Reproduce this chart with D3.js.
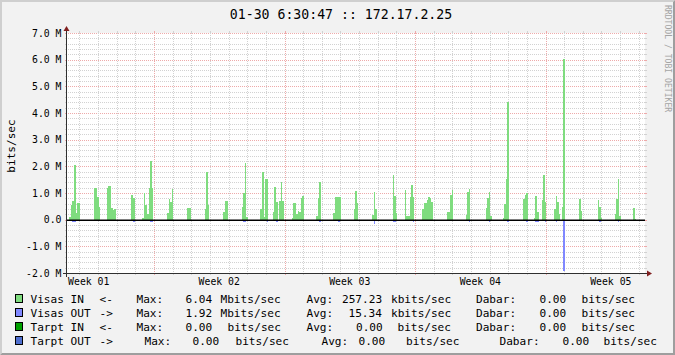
<!DOCTYPE html>
<html><head><meta charset="utf-8">
<script src="https://cdn.jsdelivr.net/npm/d3@7/dist/d3.min.js"></script>
<style>
html,body{margin:0;padding:0;background:#f2f2f2}
svg{display:block}
text{font-family:"DejaVu Sans Mono",monospace;fill:#000}
</style>
</head><body>
<svg id="chart" width="675" height="355"></svg>
<script>
// ---------------- DATA ----------------
const title = "01-30 6:30:47 :: 172.17.2.25";
const yUnitLabel = "bits/sec";
const watermark = "RRDTOOL / TOBI OETIKER";
const totalHours = 744;          // one month window
const stepHours = 2;             // RRA resolution
const firstSampleHour = 1;       // offset of first 2h sample
const weekStartHour = 112;       // first week boundary
const dayStartHour = 16;         // first day boundary
const weekLabels = ["Week 01", "Week 02", "Week 03", "Week 04", "Week 05"];
const weekLabelHours = [28, 196, 364, 532, 700];
const yTicks = [-2, -1, 0, 1, 2, 3, 4, 5, 6, 7];
const yTickLabels = ["-2.0 M", "-1.0 M", "0.0", "1.0 M", "2.0 M", "3.0 M", "4.0 M", "5.0 M", "6.0 M", "7.0 M"];

// Visas IN (Mbit/s) per 2-hour slot index
const visasInSlots = [1,2,3,4,5,6,7, 17,18,19,20, 25,26,27,28,29,30, 41,42, 48,49,50,51,52,53,54,
  64,65,66,67, 77,78, 88,89,90, 100,101,102, 112,113,114,115, 124,125,126,127,128,
  132,133,134,136,137,138, 144,145,146,147,148,149,150,151, 160,161,162, 171,172,173,174,175,
  184,185,186, 196,197,198, 209,210,211, 217,218,219,220,221,222, 228,229,230,231,232,233,234,
  244,245,246,247, 256,257,258, 269,270,271,272, 280,281,282,283, 293,294,295, 300,301,302,
  305,306,307, 313,314,315,316, 318,319, 329,330, 341,342,343, 352,353,354,355, 364,365];
const visasInMbps = [0.11,0.56,0.71,2.06,0.25,0.64,0.64, 1.2,1.2,0.85,0.46, 1.2,1.27,1.27,0.45,0.38,0.41, 0.94,0.8, 0.05,1.0,0.56,0.23,1.19,2.19,1.19,
  0.26,0.79,0.68,1.15, 0.45,0.45, 0.41,1.79,0.56, 0.3,0.71,0.71, 0.48,1.01,2.11,0.11, 0.39,1.78,0.11,1.51,1.51,
  0.27,1.24,0.65,0.71,1.4,0.69, 0.07,0.64,0.64,0.2,0.34,0.3,0.81,0.89, 0.14,0.81,1.43, 0.26,0.86,0.86,0.86,0.86,
  0.4,1.09,0.64, 0.19,1.05,0.39, 1.69,0.9,0.24, 1.1,0.15,0.15,0.84,1.31,0.84, 0.4,0.63,0.63,0.75,0.85,0.81,0.65,
  0.3,0.3,0.94,1.12, 0.19,1.05,1.16, 0.45,0.81,1.05,0.12, 0.07,0.6,1.54,4.42, 0.79,0.94,1.01, 0.05,0.9,0.27,
  0.75,1.69,0.68, 0.4,0.9,0.65,0.2, 0.49,6.04, 0.79,0.34, 0.75,0.49,0.06, 0.21,0.79,1.54,0.12, 0.45,0.04];

// Visas OUT (Mbit/s, drawn negative)
const visasOutSlots = [3,4, 42, 53,54, 89, 113,114, 125, 128, 134, 138, 162, 174, 186, 197, 209,210, 218, 222,
  258, 271, 283, 295, 301,302, 307, 314, 319, 342, 354];
const visasOutMbps = [0.08,0.08, 0.08, 0.08,0.08, 0.06, 0.08,0.08, 0.06, 0.08, 0.08, 0.06, 0.08, 0.08, 0.06, 0.15, 0.08,0.08, 0.06, 0.08,
  0.08, 0.08, 0.08, 0.08, 0.08,0.08, 0.08, 0.08, 1.92, 0.08, 0.08];

// Legend
const legendNames = ["Visas IN", "Visas OUT", "Tarpt IN", "Tarpt OUT"];
const legendArrows = ["<-", "->", "<-", "->"];
const legendColors = ["#7fdc7f", "#8088ff", "#00a000", "#4f6fcf"];
const maxValues = ["6.04", "1.92", "0.00", "0.00"];
const maxUnits = ["Mbits/sec", "Mbits/sec", "bits/sec", "bits/sec"];
const avgValues = ["257.23", "15.34", "0.00", "0.00"];
const avgUnits = ["kbits/sec", "kbits/sec", "bits/sec", "bits/sec"];
const curValues = ["0.00", "0.00", "0.00", "0.00"];
const curUnits = ["bits/sec", "bits/sec", "bits/sec", "bits/sec"];

// ---------------- DRAW ----------------
const W = 675, H = 355;
const X0 = 67, X1 = 645, Y0 = 273, Y1 = 33;
const svg = d3.select("#chart");
const x = d3.scaleLinear().domain([0, totalHours]).range([X0, X1]);
const y = d3.scaleLinear().domain([-2, 7]).range([Y0, Y1]);

svg.append("rect").attr("width", W).attr("height", H).attr("fill", "#f2f2f2");
svg.append("polygon").attr("points", `0,0 ${W},0 ${W-2},2 2,2 2,${H-2} 0,${H}`).attr("fill", "#cfcfcf");
svg.append("polygon").attr("points", `${W},0 ${W},${H} 0,${H} 2,${H-2} ${W-2},${H-2} ${W-2},2`).attr("fill", "#9e9e9e");
svg.append("rect").attr("x", X0).attr("y", Y1).attr("width", X1 - X0).attr("height", Y0 - Y1).attr("fill", "#ffffff");

const grid = svg.append("g").attr("shape-rendering", "crispEdges");
const minorCol = "#d2d2d2", majorCol = "#eeaaaa";
// horizontal grid
for (let k = -10; k <= 35; k++) {
  const v = k / 5, major = (k % 5 === 0);
  const yy = Math.round(y(v)) + 0.5;
  const col = major ? majorCol : minorCol;
  grid.append("line").attr("x1", X0 + 1).attr("x2", X1).attr("y1", yy).attr("y2", yy)
    .attr("stroke", col).attr("stroke-dasharray", "1,1");
  grid.append("line").attr("x1", X0 - 2).attr("x2", X0).attr("y1", yy).attr("y2", yy).attr("stroke", col);
  grid.append("line").attr("x1", X1).attr("x2", X1 + 2).attr("y1", yy).attr("y2", yy).attr("stroke", col);
}
// vertical grid
const dayLines = d3.range(dayStartHour, totalHours, 24);
dayLines.forEach(h => {
  const major = ((h - weekStartHour) % 168 === 0);
  const xx = Math.round(x(h)) + 0.5;
  const col = major ? majorCol : minorCol;
  grid.append("line").attr("x1", xx).attr("x2", xx).attr("y1", Y1).attr("y2", Y0 - 1)
    .attr("stroke", col).attr("stroke-dasharray", "1,1");
  grid.append("line").attr("x1", xx).attr("x2", xx).attr("y1", Y1 - 2).attr("y2", Y1).attr("stroke", col);
  grid.append("line").attr("x1", xx).attr("x2", xx).attr("y1", Y0).attr("y2", Y0 + 2).attr("stroke", col);
});

// areas
const bars = svg.append("g").attr("shape-rendering", "crispEdges");
function drawBars(slots, vals, sign, color) {
  const data = slots.map((s, i) => ({t: firstSampleHour + s * stepHours, v: vals[i] * sign}));
  bars.selectAll(null).data(data).enter().append("rect")
    .attr("x", d => Math.round(x(d.t)))
    .attr("width", d => Math.max(1, Math.round(x(d.t + stepHours)) - Math.round(x(d.t))))
    .attr("y", d => Math.min(y(d.v), y(0)))
    .attr("height", d => Math.abs(y(d.v) - y(0)))
    .attr("fill", color);
}
drawBars(visasInSlots, visasInMbps, 1, legendColors[0]);
drawBars(visasOutSlots, visasOutMbps, -1, legendColors[1]);

// zero rule
svg.append("line").attr("x1", X0).attr("x2", X1).attr("y1", y(0) + 0.5).attr("y2", y(0) + 0.5)
  .attr("stroke", "#000").attr("stroke-width", 1.5);

// axes
const axisCol = "#303030";
svg.append("line").attr("x1", X0 - 4).attr("x2", X1 + 4).attr("y1", Y0 + 0.5).attr("y2", Y0 + 0.5)
  .attr("stroke", axisCol).attr("shape-rendering", "crispEdges");
svg.append("line").attr("x1", X0 - 0.5).attr("x2", X0 - 0.5).attr("y1", Y0 + 4).attr("y2", Y1 - 4)
  .attr("stroke", axisCol).attr("shape-rendering", "crispEdges");
svg.append("polygon").attr("points", `${X1+2},${Y0-2.5} ${X1+2},${Y0+3.5} ${X1+7},${Y0+0.5}`).attr("fill", "#801f1f");
svg.append("polygon").attr("points", `${X0-3.5},${Y1-2} ${X0+2.5},${Y1-2} ${X0-0.5},${Y1-7}`).attr("fill", "#801f1f");

// y tick labels
svg.append("g").selectAll("text").data(yTicks).enter().append("text")
  .attr("x", 61.5).attr("y", d => y(d) + 3.6)
  .attr("text-anchor", "end").style("font-size", "9.8px")
  .text((d, i) => yTickLabels[i]);

// x labels
svg.append("g").selectAll("text").data(weekLabels).enter().append("text")
  .attr("x", (d, i) => x(weekLabelHours[i])).attr("y", 285)
  .attr("text-anchor", "middle").style("font-size", "9.8px")
  .text(d => d);

// title
svg.append("text").attr("x", 341).attr("y", 18.5).attr("text-anchor", "middle")
  .style("font-size", "13.2px").text(title);

// unit label
svg.append("text").attr("transform", "translate(14.5,146) rotate(-90)")
  .attr("text-anchor", "middle").style("font-size", "11.1px").text(yUnitLabel);

// watermark
svg.append("text").attr("transform", "translate(665,5) rotate(90)")
  .attr("text-anchor", "start").style("font-size", "8.1px").style("fill", "#a4a4a4").text(watermark);

// legend
const rowLayout = [
  {arrow: 100, max: 137, maxV: 186, maxU: 221, avg: 307, avgV: 342.5, avgU: 391.5, cur: 476.5, curV: 540, curU: 582},
  {arrow: 100, max: 137, maxV: 186, maxU: 221, avg: 307, avgV: 349, avgU: 391.5, cur: 476.5, curV: 540, curU: 582},
  {arrow: 100, max: 137, maxV: 186, maxU: 228, avg: 307, avgV: 356.5, avgU: 398, cur: 476.5, curV: 540, curU: 582},
  {arrow: 100, max: 145, maxV: 193, maxU: 236, avg: 322, avgV: 359, avgU: 406.5, cur: 500, curV: 563, curU: 604}
];
const lg = svg.append("g").style("font-size", "11.1px");
legendNames.forEach((name, i) => {
  const cy = 299 + i * 14, by = cy + 4;
  const L = rowLayout[i];
  lg.append("rect").attr("x", 15.5).attr("y", cy - 4.5).attr("width", 7).attr("height", 8)
    .attr("fill", legendColors[i]).attr("stroke", "#000").attr("stroke-width", 1);
  const items = [[30.5, name], [L.arrow - 0.5, legendArrows[i]], [L.max - 0.5, "Max:"], [L.maxV - 0.5, maxValues[i]],
    [L.maxU - 0.5, maxUnits[i]], [L.avg - 0.5, "Avg:"], [L.avgV - 0.5, avgValues[i]], [L.avgU - 0.5, avgUnits[i]],
    [L.cur - 0.5, "Dabar:"], [L.curV - 0.5, curValues[i]], [L.curU - 0.5, curUnits[i]]];
  items.forEach(([xx, t]) => lg.append("text").attr("x", xx).attr("y", by).text(t));
});
</script>
</body></html>
